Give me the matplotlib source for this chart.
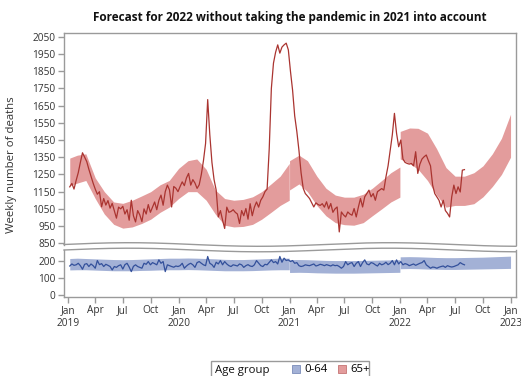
import matplotlib.pyplot as plt
import matplotlib.dates as mdates
import numpy as np
import pandas as pd
from matplotlib.lines import Line2D
from matplotlib.patches import Patch, Rectangle

plt.rcParams['font.family'] = ['Open Sans', 'DejaVu Sans']

W, H = 521, 376  # output size in pixels

# weekly observed deaths, first week starting 2019-01-07
first_week = '2019-01-07'

deaths_65plus = [
    1178, 1198, 1165, 1215, 1260, 1320, 1376, 1350, 1325, 1280,
    1240, 1200, 1165, 1135, 1150, 1062, 1110, 1072, 1098, 1054,
    1082, 1040, 996, 1060, 1050, 1065, 1020, 1045, 984, 1100,
    1010, 974, 1040, 1015, 976, 1050, 1020, 1075, 1030, 1060,
    1090, 1045, 1100, 1130, 1071, 1150, 1188, 1160, 1061, 1180,
    1170, 1150,
    1180, 1207, 1185, 1230, 1256, 1188, 1220, 1200, 1169, 1190,
    1250, 1330, 1430, 1685, 1480, 1320, 1220, 1159, 1003, 1040,
    985, 936, 1060, 1030, 1035, 1045, 1030, 1020, 965, 1040,
    1010, 1052, 990, 1080, 1010, 1060, 1090, 1060, 1100, 1120,
    1150, 1165, 1400, 1750, 1897, 1960, 2003, 1955, 1990, 2003,
    2013, 1974, 1850,
    1740, 1590, 1500, 1390, 1260, 1170, 1139, 1125, 1110, 1085,
    1061, 1085, 1075, 1070, 1080, 1060, 1091, 1050, 1081, 1030,
    1050, 1061, 916, 1032, 1015, 1003, 1032, 1020, 1013, 1052,
    1003, 1060, 1110, 1061, 1120, 1140, 1159, 1120, 1139, 1100,
    1150, 1159, 1168, 1159, 1236, 1300, 1392, 1480, 1605, 1489,
    1411, 1450,
    1340, 1320, 1314, 1310, 1314, 1300, 1382, 1256, 1310, 1340,
    1353, 1363, 1330, 1300, 1188, 1139, 1120, 1100, 1061, 1100,
    1040, 1024, 1003, 1120, 1188, 1139, 1178, 1148, 1275, 1278,
]

deaths_0_64 = [
    168, 180, 172, 175, 184, 170, 149, 178, 182, 165, 180,
    170, 155, 200, 176, 182, 165, 178, 172, 165, 145,
    165, 160, 170, 175, 150, 176, 184, 162, 135, 166,
    175, 165, 160, 155, 184, 178, 194, 175, 188, 182,
    175, 204, 184, 194, 135, 175, 170, 165, 161, 168, 165,
    170, 184, 155, 168, 178, 184, 175, 160, 188, 194, 184,
    175, 170, 224, 184, 176, 160, 190, 180, 200, 175, 194,
    180, 170, 165, 175, 172, 168, 180, 175, 160, 170, 176,
    168, 165, 175, 200, 185, 170, 165, 178, 175, 190, 204,
    188, 194, 180, 224, 190, 214, 200, 204, 194, 200, 184,
    188, 170, 165, 168, 175, 172, 170, 175, 180, 168, 172,
    178, 175, 170, 176, 172, 168, 175, 170, 172, 165, 155,
    165, 194, 175, 184, 188, 165, 184, 194, 165, 188, 204,
    180, 175, 188, 184, 175, 168, 184, 175, 180, 190, 176,
    184, 200, 175, 204, 180, 194, 175, 182, 178, 170, 175,
    180, 172, 178, 184, 188, 200, 175, 165, 155, 162, 160,
    155, 161, 165, 168, 160, 170, 165, 162, 165, 170, 175, 188, 180, 175,
]

# forecast bands, sampled at month starts; one block per forecast period
blocks = [('2019-01-07', '2020-12-31'), ('2021-01-01', '2021-12-31'), ('2022-01-01', '2022-12-31')]

hi65_2019_20 = [1345, 1362, 1370, 1230, 1150, 1090, 1082, 1100, 1125, 1150, 1190, 1215,
                1285, 1330, 1340, 1280, 1160, 1110, 1100, 1105, 1120, 1150, 1195, 1240, 1314]
lo65_2019_20 = [1185, 1200, 1215, 1110, 1020, 960, 938, 945, 965, 990, 1030, 1060,
                1110, 1150, 1150, 1100, 1020, 955, 945, 948, 960, 990, 1030, 1070, 1100]
hi65_2021 = [1330, 1362, 1330, 1240, 1170, 1130, 1118, 1118, 1135, 1170, 1215, 1260, 1293]
lo65_2021 = [1160, 1195, 1150, 1070, 1010, 970, 958, 955, 970, 1010, 1050, 1090, 1118]
hi65_2022 = [1500, 1520, 1518, 1490, 1400, 1290, 1240, 1240, 1260, 1300, 1370, 1460, 1600]
lo65_2022 = [1340, 1314, 1280, 1215, 1130, 1060, 1070, 1070, 1080, 1120, 1180, 1250, 1350]

hi0_2019_20 = [212, 214, 212, 210, 208, 206, 205, 206, 208, 210, 212, 214,
               214, 215, 214, 212, 210, 207, 206, 206, 208, 210, 212, 214, 214]
lo0_2019_20 = [145, 146, 146, 144, 142, 140, 140, 140, 142, 143, 145, 146,
               146, 147, 146, 144, 142, 140, 140, 140, 141, 143, 145, 146, 146]
hi0_2021 = [205, 206, 205, 203, 201, 200, 200, 200, 201, 202, 203, 204, 205]
lo0_2021 = [130, 131, 130, 128, 127, 126, 126, 126, 127, 128, 129, 130, 131]
hi0_2022 = [222, 223, 222, 220, 218, 217, 217, 218, 219, 220, 222, 224, 226]
lo0_2022 = [152, 153, 152, 150, 149, 148, 148, 149, 150, 151, 152, 153, 154]

bands65 = [(hi65_2019_20, lo65_2019_20), (hi65_2021, lo65_2021), (hi65_2022, lo65_2022)]
bands0 = [(hi0_2019_20, lo0_2019_20), (hi0_2021, lo0_2021), (hi0_2022, lo0_2022)]


def block_dates(start, end):
    d = list(pd.date_range(start, end, freq='MS'))
    if d[0] != pd.Timestamp(start):
        d = [pd.Timestamp(start)] + d
    if d[-1] != pd.Timestamp(end):
        d.append(pd.Timestamp(end))
    return d


weeks = pd.date_range(first_week, periods=len(deaths_65plus), freq='7D')

red_band, red_line = '#e39c9c', '#aa3430'
blue_band, blue_line = '#a3b1d6', '#33509b'
frame = '#9a9a9a'
txt = '#333333'

fig = plt.figure(figsize=(W / 100, H / 100), dpi=100)
ax1 = fig.add_axes([64 / W, 1 - 245 / H, 452 / W, 212 / H])
ax2 = fig.add_axes([64 / W, 1 - 297 / H, 452 / W, 47 / H], sharex=ax1)

for (start, end), (hi, lo) in zip(blocks, bands65):
    ax1.fill_between(block_dates(start, end), lo, hi, color=red_band, lw=0)
ax1.plot(weeks, deaths_65plus, color=red_line, lw=0.9)

for (start, end), (hi, lo) in zip(blocks, bands0):
    ax2.fill_between(block_dates(start, end), lo, hi, color=blue_band, lw=0)
ax2.plot(weeks, deaths_0_64, color=blue_line, lw=0.9)

ax1.set_ylim(840, 2072)
ax1.set_yticks(np.arange(850, 2051, 100))
ax2.set_ylim(-14, 262)
ax2.set_yticks([0, 100, 200])
ax1.set_xlim(pd.Timestamp('2018-12-19'), pd.Timestamp('2023-01-18'))

quarters = pd.date_range('2019-01-01', '2023-01-01', freq='QS')
ax2.set_xticks(quarters)
ax2.set_xticklabels([q.strftime('%b\n%Y') if q.month == 1 else q.strftime('%b') for q in quarters])

for ax in (ax1, ax2):
    for s in ax.spines.values():
        s.set_color(frame)
        s.set_linewidth(1)
    ax.tick_params(colors=frame, labelcolor=txt, labelsize=7.3, length=4, width=1, pad=2)
ax1.spines['bottom'].set_visible(False)
ax2.spines['top'].set_visible(False)
ax1.tick_params(axis='x', bottom=False, labelbottom=False)

# broken-axis wavy edges
xs = np.linspace(64, 516, 200)
wave = 244.5 - 1.8 * np.sin(2 * np.pi * (xs - 64) / 260)
for off in (0, 5.5):
    fig.add_artist(Line2D(xs / W, 1 - (wave + off) / H, transform=fig.transFigure,
                          color=frame, lw=1))

fig.text(290 / W, 1 - 18 / H, 'Forecast for 2022 without taking the pandemic in 2021 into account',
         ha='center', va='center', fontsize=8.5, fontweight='bold', color='#111111')
fig.text(12 / W, 1 - 165 / H, 'Weekly number of deaths', rotation=90,
         ha='center', va='center', fontsize=8.2, color=txt)

# legend: "Age group" label + two swatches inside one frame
fig.add_artist(Rectangle((211 / W, 1 - 382 / H), 158 / W, 21 / H, transform=fig.transFigure,
                         facecolor='white', edgecolor=frame, lw=1))
fig.text(215 / W, 1 - 370 / H, 'Age group', ha='left', va='center', fontsize=8.2, color='#111111')
handles = [Patch(facecolor=blue_band, edgecolor='#7b8cba', lw=0.6),
           Patch(facecolor=red_band, edgecolor='#c57474', lw=0.6)]
fig.legend(handles, ['0-64', '65+'], ncol=2, loc='center left',
           bbox_to_anchor=(290 / W, 1 - 370 / H), fontsize=8.2, frameon=False,
           handlelength=0.7, handleheight=0.7, handletextpad=0.4,
           columnspacing=0.9, borderpad=0.2, borderaxespad=0)

fig.savefig('out.png', dpi=100)
